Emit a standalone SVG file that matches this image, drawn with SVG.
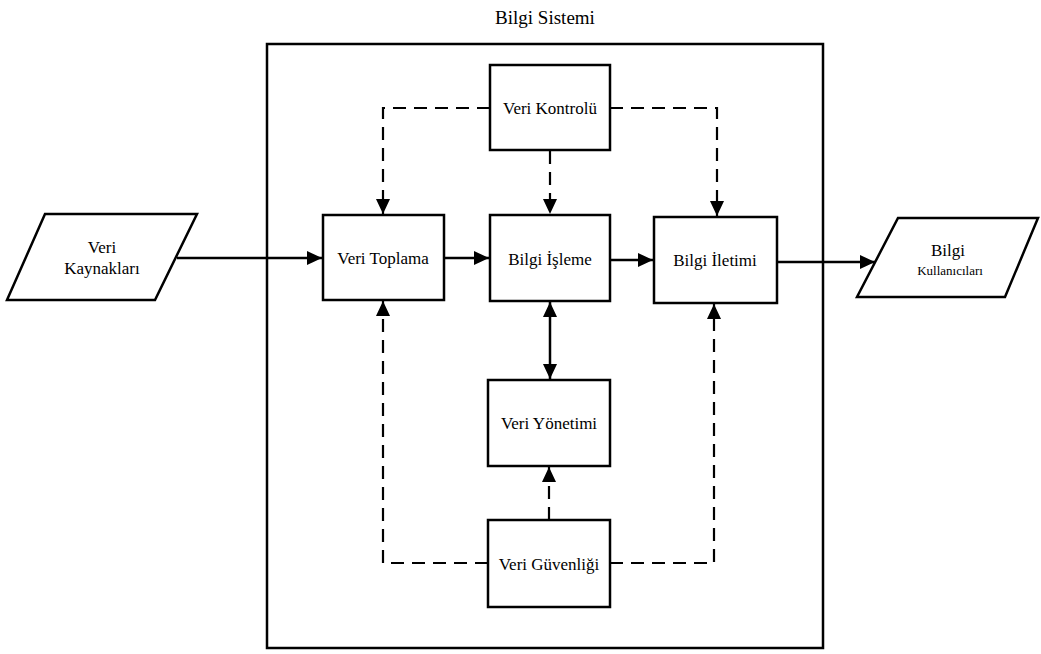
<svg xmlns="http://www.w3.org/2000/svg" width="1041" height="654" viewBox="0 0 1041 654">
<style>
.box{fill:#fff;stroke:#000;stroke-width:2.5}
.ln{fill:none;stroke:#000;stroke-width:2.5}
.dash{fill:none;stroke:#000;stroke-width:2.2;stroke-dasharray:13,8}
.t{font-family:"Liberation Serif","Times New Roman",serif;fill:#000;text-anchor:middle;font-size:17px}
</style>
<defs>
<marker id="ah" markerWidth="15" markerHeight="14" viewBox="0 0 15 14" refX="15" refY="7" orient="auto-start-reverse" markerUnits="userSpaceOnUse">
<path d="M0,0 L15,7 L0,14 Z" fill="#000"/>
</marker>
</defs>
<rect width="1041" height="654" fill="#fff"/>
<text class="t" x="545" y="24" font-size="19" style="font-size:19px">Bilgi Sistemi</text>
<g id="system"><rect x="267" y="44" width="556" height="604" class="box"/></g>
<g id="connectors">
<path class="ln" d="M177,258 H322" marker-end="url(#ah)"/>
<path class="ln" d="M444,258 H489" marker-end="url(#ah)"/>
<path class="ln" d="M610,260 H653" marker-end="url(#ah)"/>
<path class="ln" d="M777,262 H875" marker-end="url(#ah)"/>
<path class="ln" d="M550,302 V379" marker-start="url(#ah)" marker-end="url(#ah)"/>
<path class="dash" d="M490,108 H383 V214" marker-end="url(#ah)"/>
<path class="dash" d="M550,151 V214" marker-end="url(#ah)"/>
<path class="dash" d="M610,108 H717 V216" marker-end="url(#ah)"/>
<path class="dash" d="M549,520 V467" marker-end="url(#ah)"/>
<path class="dash" d="M488,563 H383 V301" marker-end="url(#ah)"/>
<path class="dash" d="M610,563 H714 V304" marker-end="url(#ah)"/>
</g>
<g id="veri-kaynaklari"><polygon class="box" points="45,214 197,214 155,300 7,300"/><text class="t" x="102" y="253">Veri</text><text class="t" x="102" y="274">Kaynakları</text></g>
<g id="bilgi-kullanicilari"><polygon class="box" points="898,218 1038,218 1005,297 857,297"/><text class="t" x="948" y="256">Bilgi</text><text class="t" x="950" y="275" style="font-size:13px">Kullanıcıları</text></g>
<g id="veri-kontrolu"><rect class="box" x="490" y="65" width="120" height="85"/><text class="t" x="550" y="114">Veri Kontrolü</text></g>
<g id="veri-toplama"><rect class="box" x="323" y="215" width="121" height="85"/><text class="t" x="383" y="264">Veri Toplama</text></g>
<g id="bilgi-isleme"><rect class="box" x="490" y="215" width="120" height="86"/><text class="t" x="550" y="265">Bilgi İşleme</text></g>
<g id="bilgi-iletimi"><rect class="box" x="654" y="217" width="123" height="86"/><text class="t" x="715" y="266">Bilgi İletimi</text></g>
<g id="veri-yonetimi"><rect class="box" x="488" y="380" width="122" height="86"/><text class="t" x="549" y="429">Veri Yönetimi</text></g>
<g id="veri-guvenligi"><rect class="box" x="488" y="520" width="122" height="87"/><text class="t" x="549" y="570">Veri Güvenliği</text></g>
</svg>
